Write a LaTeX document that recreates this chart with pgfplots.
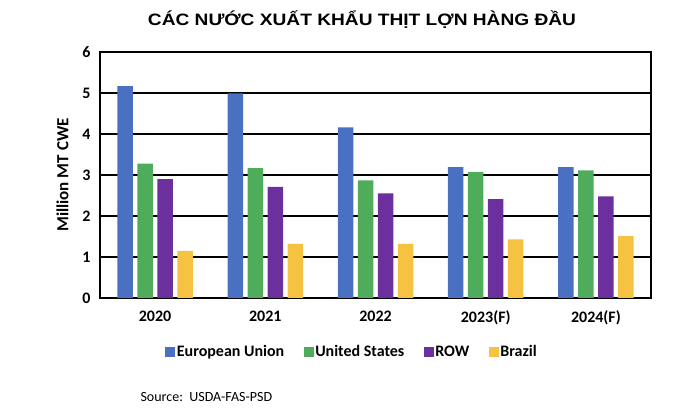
\documentclass[border=0pt]{standalone}
\usepackage{pgfplots}
\pgfplotsset{compat=1.18}
\usepackage{fontspec}
\setmainfont{Carlito}
\newfontfamily\titlefont{Liberation Sans}
\definecolor{cEU}{HTML}{4A70C2}
\definecolor{cUS}{HTML}{4EAC5B}
\definecolor{cROW}{HTML}{6B309E}
\definecolor{cBR}{HTML}{F5C242}
\begin{document}
\begin{tikzpicture}
\path (0pt,0pt) rectangle (680pt,419pt);
\node[anchor=center] at (362pt,399pt) {\scalebox{1.16}[1]{\titlefont\bfseries\fontsize{16.5}{20}\selectfont CÁC NƯỚC XUẤT KHẨU THỊT LỢN HÀNG ĐẦU}};
\begin{axis}[
  at={(100pt,121pt)}, anchor=south west,
  scale only axis, width=551pt, height=246pt,
  ybar=4.5pt, bar width=15.5pt,
  xmin=-0.5, xmax=4.5, ymin=0, ymax=6,
  xtick=data, xticklabels={2020,2021,2022,2023(F),2024(F)},
  ytick={0,1,2,3,4,5,6},
  ymajorgrids, grid style={black, line width=1.1pt},
  axis line style={black, line width=1.1pt},
  major tick length=0pt,
  tick label style={font=\bfseries\fontsize{16}{18}\selectfont},
  /pgf/number format/assume math mode=true,
  xticklabel style={yshift=-9pt},
  yticklabel style={xshift=-6pt},
  ylabel={Million MT CWE},
  ylabel style={font=\bfseries\fontsize{17}{19}\selectfont, at={(-28pt,0.5)}, anchor=south},
  legend columns=4,
  legend style={at={(0.457,-0.22)}, anchor=center, draw=none, font=\bfseries\fontsize{16}{18}\selectfont, nodes={inner xsep=1.5pt}, /tikz/every even column/.append style={column sep=18pt}},
  legend image code/.code={\fill[#1] (0pt,-4.5pt) rectangle (10pt,5pt);},
]
\addplot[fill=cEU, draw=none] coordinates {(0,5.17) (1,4.99) (2,4.16) (3,3.19) (4,3.19)};
\addplot[fill=cUS, draw=none] coordinates {(0,3.28) (1,3.17) (2,2.87) (3,3.07) (4,3.11)};
\addplot[fill=cROW, draw=none] coordinates {(0,2.90) (1,2.71) (2,2.55) (3,2.41) (4,2.48)};
\addplot[fill=cBR, draw=none] coordinates {(0,1.15) (1,1.32) (2,1.32) (3,1.43) (4,1.51)};
\legend{European Union, United States, ROW, Brazil}
\end{axis}
\node[anchor=west, font=\fontsize{14}{16}\selectfont] at (137pt,22pt) {Source:\ \ USDA-FAS-PSD};
\end{tikzpicture}
\end{document}
